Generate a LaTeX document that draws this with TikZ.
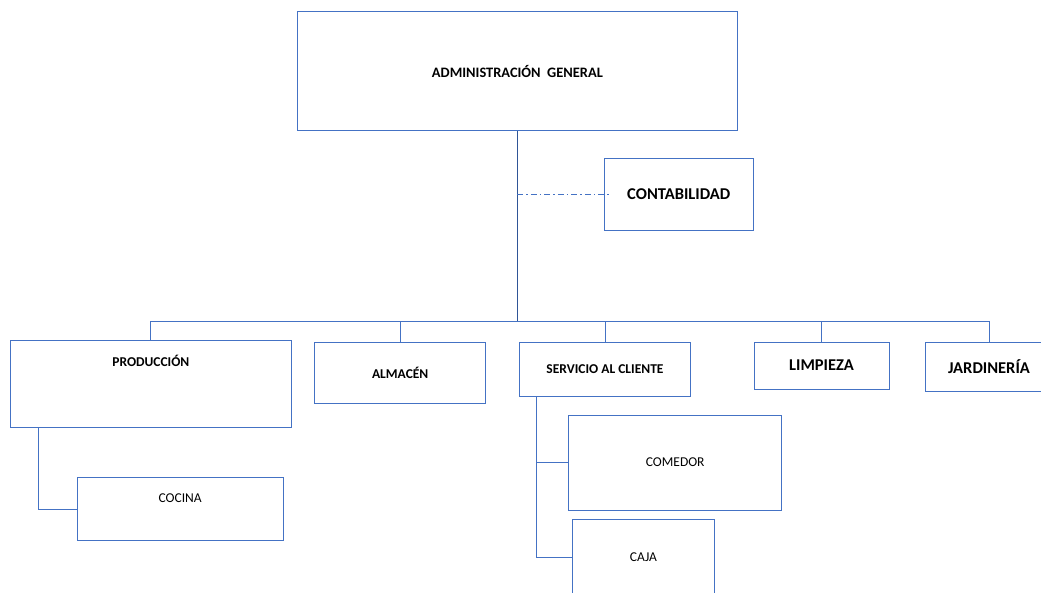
\documentclass[tikz,border=0pt]{standalone}
\usepackage{fontspec}
\setmainfont{Carlito}
\usetikzlibrary{calc}
\definecolor{boxline}{HTML}{4472C4}
\definecolor{stemline}{HTML}{2F5597}
\begin{document}
\begin{tikzpicture}[x=1pt,y=-1pt,
  unit/.style={draw=boxline, line width=1pt, rectangle, inner sep=0pt, align=center,
    font=\fontsize{13.5}{16}\selectfont},
  boldunit/.style={unit, font=\fontsize{13.5}{16}\selectfont\bfseries},
  bigunit/.style={unit, font=\fontsize{16.5}{19}\selectfont\bfseries},
  link/.style={draw=boxline, line width=1pt},
  mainlink/.style={draw=stemline, line width=1.8pt},
  advisory/.style={draw=boxline, line width=0.9pt, dash pattern=on 6pt off 3pt on 1.5pt off 3pt}]

\useasboundingbox (0,0) rectangle (1041,592);
\fill[white] (0,0) rectangle (1041,592);
\clip (0,0) rectangle (1041,592);

% top management
\node[boldunit, font=\fontsize{14.4}{17}\selectfont\bfseries, minimum width=439.8pt, minimum height=119pt]
  (adm) at (517.4,71.2) {ADMINISTRACIÓN\ \ GENERAL};

% staff unit
\node[bigunit, minimum width=149.3pt, minimum height=72.4pt] (cont) at (678.7,194.5) {CONTABILIDAD};

% departments
\node[boldunit, minimum width=280.3pt, text height=26.6pt, text depth=61.1pt]
  (prod) at (150.85,383.85) {PRODUCCIÓN};
\node[boldunit, minimum width=171pt, minimum height=61.7pt] (alm) at (400.2,372.85) {ALMACÉN};
\node[boldunit, minimum width=170.6pt, minimum height=54pt] (serv) at (605,369) {SERVICIO AL CLIENTE};
\node[bigunit, minimum width=135pt, minimum height=47pt] (limp) at (821.5,365.5) {LIMPIEZA};
\node[bigunit, minimum width=128pt, minimum height=49pt] (jard) at (989,366.5) {JARDINERÍA};

% sub-units
\node[unit, minimum width=205.7pt, text height=24.7pt, text depth=37.9pt]
  (cocina) at (180.15,509) {COCINA};
\node[unit, minimum width=213pt, minimum height=95.3pt] (comedor) at (675.2,462.65) {COMEDOR};
\node[unit, minimum width=142.4pt, minimum height=76pt] (caja) at (643.5,557) {CAJA};

% connectors
\coordinate (bus) at (517.7,321);
\draw[link] (prod.north) -- (prod.north |- bus) -- (jard.north |- bus) -- (jard.north);
\draw[link] (alm.north) -- (alm.north |- bus);
\draw[link] (serv.north) -- (serv.north |- bus);
\draw[link] (limp.north) -- (limp.north |- bus);
\draw[mainlink] (adm.south) -- (adm.south |- bus);
\draw[advisory] (adm.south |- cont.west) -- ($(cont.west)+(8,0)$);

\draw[link] ($(prod.south west)+(28.6,0)$) |- (cocina.west);
\draw[link] ($(serv.south west)+(17,0)$) coordinate (strunk) |- (caja.west);
\draw[link] (strunk |- comedor.west) -- (comedor.west);
\end{tikzpicture}
\end{document}
